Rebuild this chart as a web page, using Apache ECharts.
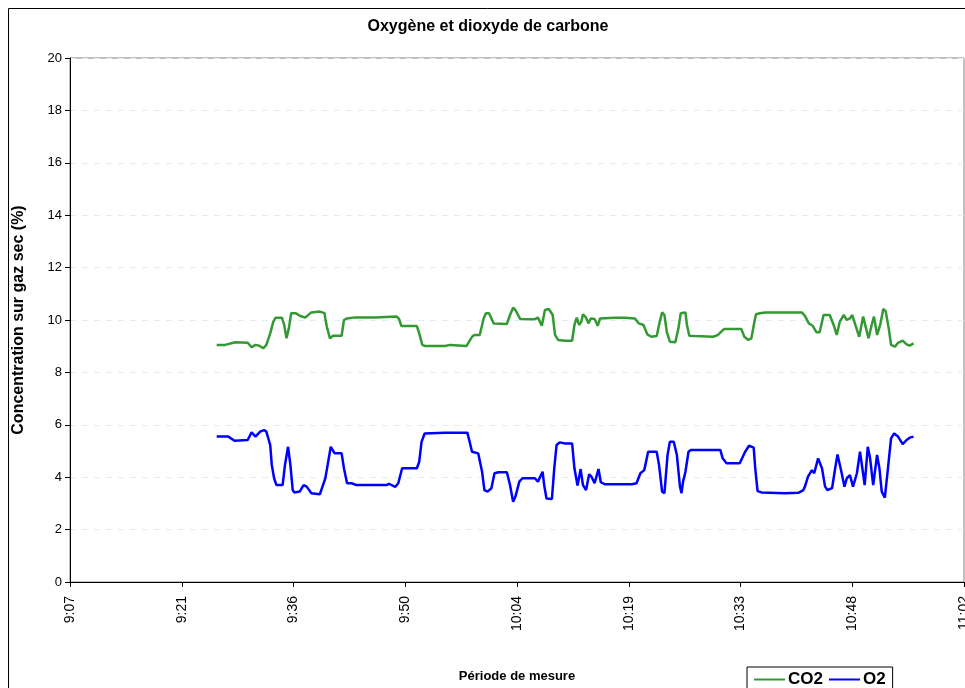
<!DOCTYPE html>
<html>
<head>
<meta charset="utf-8">
<script src="https://cdn.jsdelivr.net/npm/echarts@6/dist/echarts.min.js"></script>
<style>
html,body{margin:0;padding:0;background:#fff;}
#chart{width:965px;height:688px;}
</style>
</head>
<body>
<div id="chart"></div>
<script>
// Tick labels of the time axis (9:07 -> 11:02, one tick every 0.01 day = 14.4 min)
const tickLabels = ['9:07','9:21','9:36','9:50','10:04','10:19','10:33','10:48','11:02'];
const yTicks = [0, 20, 2]; // min, max, step

// Times in minutes after midnight
const co2Time = [566.1,567.2,568.5,570.1,570.6,571.1,571.6,572.1,572.5,573.0,573.4,573.7,574.5,574.8,575.1,575.4,575.7,576.3,576.8,577.5,578.3,579.4,580.0,580.1,580.3,580.7,581.1,582.2,582.5,582.9,583.9,586.5,589.3,589.6,589.9,591.9,592.2,592.6,592.9,595.5,596.2,598.3,599.0,599.3,600.0,600.5,600.8,601.2,601.8,603.5,603.9,604.3,604.6,605.2,607.1,607.5,608.0,608.4,608.9,609.4,609.7,610.1,611.0,611.9,612.2,612.5,612.8,613.1,613.3,613.7,614.0,614.3,614.8,615.2,615.5,617.4,618.7,620.0,620.5,621.1,621.6,622.1,622.8,623.2,623.5,623.8,624.1,624.5,625.2,625.6,625.9,626.5,626.7,627.0,627.7,630.1,630.7,631.5,632.9,633.7,634.1,634.6,635.0,635.4,635.6,636.1,636.8,639.3,641.5,641.9,642.4,642.9,643.4,643.8,644.3,645.1,645.6,646.0,646.4,646.9,647.3,647.7,648.0,648.4,648.9,649.4,649.6,650.1,650.5,650.8,651.2,651.6,652.0,652.3,652.7,653.0,653.5,653.9,654.5,655.0,655.4,655.9];
const co2Values = [9.05,9.05,9.15,9.13,8.96,9.05,9.02,8.92,9.05,9.49,9.94,10.09,10.09,9.81,9.30,9.68,10.26,10.26,10.16,10.09,10.29,10.32,10.26,10.06,9.74,9.30,9.40,9.40,10.00,10.06,10.10,10.10,10.13,10.04,9.77,9.77,9.49,9.05,9.01,9.01,9.05,9.01,9.36,9.43,9.43,10.06,10.26,10.26,9.87,9.85,10.19,10.47,10.38,10.04,10.03,10.09,9.78,10.38,10.42,10.19,9.43,9.24,9.21,9.21,9.81,10.09,9.81,9.94,10.22,10.09,9.87,10.06,10.04,9.78,10.06,10.09,10.09,10.06,9.87,9.81,9.45,9.36,9.39,9.94,10.29,10.19,9.55,9.17,9.15,9.68,10.26,10.29,9.81,9.40,9.39,9.36,9.43,9.66,9.66,9.66,9.36,9.24,9.30,9.94,10.22,10.26,10.29,10.29,10.29,10.16,9.87,9.78,9.53,9.53,10.19,10.19,9.81,9.43,9.94,10.19,10.00,10.06,10.19,9.81,9.36,10.13,10.06,9.30,9.81,10.13,9.43,9.81,10.42,10.34,9.68,9.05,8.98,9.13,9.21,9.07,9.02,9.11];

const o2Time = [566.1,567.6,568.4,570.1,570.6,571.1,571.7,572.2,572.5,573.0,573.2,573.5,573.8,574.6,574.9,575.3,575.6,575.9,576.1,576.8,577.3,577.7,578.3,579.4,579.8,580.1,580.4,580.8,581.3,582.2,582.5,582.9,583.5,584.1,588.0,588.3,589.1,589.5,590.0,591.9,592.2,592.5,592.9,595.5,598.4,598.7,599.0,599.8,600.3,600.6,601.0,601.5,601.9,602.4,603.5,603.9,604.3,604.6,605.1,605.5,607.1,607.5,608.1,608.3,608.6,609.3,609.6,609.9,610.3,611.0,611.9,612.2,612.6,613.0,613.3,613.7,614.1,614.4,614.8,615.3,615.6,616.1,619.6,620.2,620.7,621.2,621.7,622.8,623.1,623.5,623.8,624.2,624.5,625.0,625.4,625.8,626.0,626.2,626.5,626.9,627.2,631.0,631.3,631.8,633.5,634.2,634.7,635.3,635.5,635.8,636.3,639.3,641.1,641.7,641.9,642.3,642.8,643.1,643.6,643.8,644.1,644.5,644.8,645.4,645.8,646.1,646.6,647.0,647.3,647.7,648.1,648.6,649.0,649.3,649.6,650.0,650.3,650.7,651.2,651.5,651.8,652.2,652.6,653.0,653.4,653.9,654.5,655.0,655.4,655.9];
const o2Values = [5.55,5.55,5.39,5.42,5.71,5.55,5.74,5.80,5.74,5.23,4.47,3.96,3.70,3.70,4.47,5.16,4.47,3.51,3.42,3.45,3.70,3.64,3.39,3.35,3.70,3.96,4.47,5.16,4.91,4.91,4.34,3.77,3.77,3.70,3.70,3.75,3.63,3.77,4.34,4.34,4.59,5.35,5.67,5.70,5.70,5.35,4.97,4.91,4.21,3.51,3.45,3.58,4.15,4.19,4.19,3.70,3.06,3.26,3.83,3.96,3.96,3.83,4.21,3.70,3.19,3.17,4.34,5.23,5.33,5.29,5.29,4.34,3.68,4.31,3.70,3.51,4.11,4.02,3.77,4.31,3.81,3.73,3.73,3.77,4.15,4.27,4.97,4.97,4.47,3.45,3.39,4.85,5.35,5.35,4.85,3.64,3.39,3.83,4.20,4.97,5.04,5.04,4.72,4.53,4.53,4.97,5.20,5.13,4.34,3.47,3.42,3.39,3.41,3.51,3.64,4.02,4.27,4.15,4.72,4.78,4.34,3.64,3.51,3.58,4.34,4.87,4.21,3.64,3.96,4.08,3.64,4.15,4.97,4.34,3.70,5.16,4.72,3.70,4.85,4.34,3.45,3.22,4.34,5.48,5.67,5.55,5.26,5.42,5.51,5.55];

// axis bounds in seconds after midnight: 9:07:12 -> 11:02:24, step 14.4 min
const xMinSec = 32832, xMaxSec = 39744, xStepSec = 864;

const toPairs = (t, v) => t.map((m, i) => [m * 60, v[i]]);
const FONT = 'Arial, "Liberation Sans", sans-serif';

const chart = echarts.init(document.getElementById('chart'), null, {renderer: 'canvas'});
chart.setOption({
  animation: false,
  backgroundColor: '#fff',
  title: {
    text: 'Oxygène et dioxyde de carbone',
    left: 488, top: 19, textAlign: 'center', padding: 0,
    textStyle: {fontFamily: FONT, fontSize: 16, fontWeight: 'bold', color: '#000'}
  },
  graphic: [{
    type: 'rect', silent: true, z: -1,
    shape: {x: 8.5, y: 8.5, width: 1000, height: 700},
    style: {fill: 'none', stroke: '#000', lineWidth: 1}
  }],
  legend: {
    left: 747, top: 667,
    padding: [4, 7, 8, 7],
    itemGap: 6, itemWidth: 31, itemHeight: 2,
    icon: 'rect',
    borderColor: '#000', borderWidth: 1,
    textStyle: {fontFamily: FONT, fontSize: 17, fontWeight: 'bold', color: '#000', padding: [0, 0, 0, -2]},
    data: ['CO2', 'O2']
  },
  grid: {
    left: 70, top: 58, right: 1, bottom: 106,
    show: true, borderColor: '#808080', borderWidth: 1,
    containLabel: false, outerBoundsMode: 'none'
  },
  xAxis: {
    type: 'value',
    min: xMinSec, max: xMaxSec, interval: xStepSec,
    name: 'Période de mesure',
    nameLocation: 'middle', nameGap: 88,
    nameTextStyle: {fontFamily: FONT, fontSize: 13, fontWeight: 'bold', color: '#000'},
    axisLine: {show: true, onZero: false, lineStyle: {color: '#000', width: 1}},
    axisTick: {show: true, length: 5, lineStyle: {color: '#000'}},
    axisLabel: {
      rotate: 90, margin: 14,
      fontFamily: FONT, fontSize: 14, color: '#000',
      showMinLabel: true, showMaxLabel: true, hideOverlap: false,
      formatter: v => tickLabels[Math.round((v - xMinSec) / xStepSec)] || ''
    },
    splitLine: {show: false}
  },
  yAxis: {
    type: 'value',
    min: yTicks[0], max: yTicks[1], interval: yTicks[2],
    name: 'Concentration sur gaz sec (%)',
    nameLocation: 'middle', nameGap: 43,
    nameTextStyle: {fontFamily: FONT, fontSize: 16, fontWeight: 'bold', color: '#000'},
    axisLine: {show: true, lineStyle: {color: '#000', width: 1}},
    axisTick: {show: true, length: 5, lineStyle: {color: '#000'}},
    axisLabel: {fontFamily: FONT, fontSize: 13, color: '#000', margin: 8},
    splitLine: {show: true, lineStyle: {color: '#e2edf7', type: [6, 6], width: 1}}
  },
  series: [
    {
      name: 'CO2', type: 'line', symbol: 'none', showSymbol: false,
      data: toPairs(co2Time, co2Values),
      lineStyle: {color: '#339933', width: 2.5},
      itemStyle: {color: '#339933'}
    },
    {
      name: 'O2', type: 'line', symbol: 'none', showSymbol: false,
      data: toPairs(o2Time, o2Values),
      lineStyle: {color: '#0000ff', width: 2.5},
      itemStyle: {color: '#0000ff'}
    }
  ]
});
</script>
</body>
</html>
